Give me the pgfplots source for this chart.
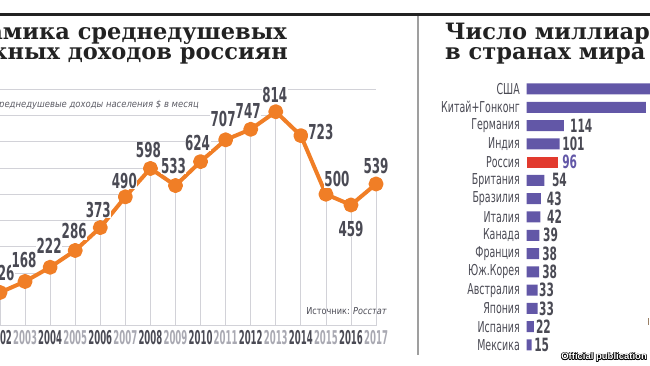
\documentclass[border=0pt]{standalone}
\usepackage{fontspec}
\usepackage{pgfplots}
\pgfplotsset{compat=1.18}
\usepackage{pgfplotstable}
\setmainfont{DejaVu Sans}
\newfontfamily\titlefont[FakeStretch=1.0]{DejaVu Serif}
\newfontfamily\numfont[FakeStretch=0.58]{DejaVu Sans}
\newfontfamily\yearfont[FakeStretch=0.45]{DejaVu Sans}
\newfontfamily\cfont[FakeStretch=0.63]{DejaVu Sans}
\newfontfamily\subfont[FakeStretch=0.89]{DejaVu Sans}
\newfontfamily\srcfont[FakeStretch=0.85]{DejaVu Sans}
\newfontfamily\wmfont{Liberation Sans}
\definecolor{orng}{HTML}{F07E26}
\definecolor{barc}{HTML}{6257A7}
\definecolor{redc}{HTML}{E23A2E}
\definecolor{dtxt}{HTML}{4A4A54}
\definecolor{ltxt}{HTML}{A9A9B2}
\definecolor{gridc}{HTML}{D2D2D8}
\definecolor{titc}{HTML}{222222}

\pgfplotstableread{
year val dx dy
2002 126 2 19
2003 168 -1 21
2004 222 -1 21
2005 286 -1 19
2006 373 -2 18
2007 490 -1 16
2008 598 -2 18
2009 533 -2 20
2010 624 -3 19
2011 707 -2.5 21
2012 747 -2.5 18
2013 814 -1 17
2014 723 20 4
2015 500 11 15
2016 459 0 -24
2017 539 0 18
}\income

\pgfplotstableread{
idx val gap
0 565 5
1 364 5
2 114 6
3 101 2.5
5 54 7.5
6 43 6
7 42 6.5
8 39 3.5
9 38 3
10 38 3
11 33 1.5
12 33 1.5
13 22 2
14 15 2.5
}\bars

\pgfplotstableread{
idx val gap
4 96 4
}\russia

\begin{document}
\begin{tikzpicture}[x=1pt,y=1pt]
\useasboundingbox (0,0) rectangle (650,366);
\clip (0,0) rectangle (650,366);

% top rule and divider
\fill[titc] (0,350) rectangle (650,353.3);
\draw[gray!75, line width=1.2pt] (418,350) -- (418,11);
\draw[brown!40!gray, line width=1pt] (648,41) -- (648,48);

% titles
\node[anchor=base east, inner sep=0pt, text=titc, font=\titlefont\bfseries\fontsize{22.5}{22.5}\selectfont] at (287,326) {Динамика среднедушевых};
\node[anchor=base east, inner sep=0pt, text=titc, font=\titlefont\bfseries\fontsize{22.5}{22.5}\selectfont] at (288,306.5) {денежных доходов россиян};
\node[anchor=base west, inner sep=0pt, text=titc, font=\titlefont\bfseries\fontsize{22.5}{22.5}\selectfont] at (445,326) {Число миллиардеров};
\node[anchor=base west, inner sep=0pt, text=titc, font=\titlefont\bfseries\fontsize{22.5}{22.5}\selectfont] at (445,306.5) {в странах мира};

\node[anchor=base east, inner sep=0pt, text=dtxt!90, font=\subfont\itshape\fontsize{9.5}{9.5}\selectfont] at (199,258.5) {Среднедушевые доходы населения \$ в месяц};
\node[anchor=base east, inner sep=0pt, text=dtxt, font=\srcfont\fontsize{9.6}{9.6}\selectfont] at (387,51) {Источник: \textit{Росстат}};

% line chart
\begin{axis}[
 at={(-50.14pt,40.4pt)}, anchor=south west, scale only axis,
 width=426.2pt, height=236.5pt,
 xmin=2000, xmax=2017, ymin=0, ymax=900,
 clip=false,
 axis line style={draw=none}, tick style={draw=none},
 ytick=\empty,
 xtick={2002,2003,...,2017},
 xticklabels={\textcolor{dtxt}{2002},\textcolor{ltxt}{2003},\textcolor{dtxt}{2004},\textcolor{ltxt}{2005},\textcolor{dtxt}{2006},\textcolor{ltxt}{2007},\textcolor{dtxt}{2008},\textcolor{ltxt}{2009},\textcolor{dtxt}{2010},\textcolor{ltxt}{2011},\textcolor{dtxt}{2012},\textcolor{ltxt}{2013},\textcolor{dtxt}{2014},\textcolor{ltxt}{2015},\textcolor{dtxt}{2016},\textcolor{ltxt}{2017}},
 xticklabel style={font=\yearfont\bfseries\fontsize{19}{19}\selectfont, anchor=base, inner sep=0pt, yshift=-18.5pt},
 /pgf/number format/assume math mode=true,
]
\draw[gridc, line width=0.8pt] (axis cs:2000,200) -- (axis cs:2003.59,200);
\draw[gridc, line width=0.8pt] (axis cs:2000,300) -- (axis cs:2005.16,300);
\draw[gridc, line width=0.8pt] (axis cs:2000,400) -- (axis cs:2006.23,400);
\draw[gridc, line width=0.8pt] (axis cs:2000,500) -- (axis cs:2007.09,500);
\draw[gridc, line width=0.8pt] (axis cs:2000,600) -- (axis cs:2008,600);
\draw[gridc, line width=0.8pt] (axis cs:2000,700) -- (axis cs:2010.92,700);
\draw[gridc, line width=0.8pt] (axis cs:2000,800) -- (axis cs:2012.79,800);
\draw[gridc, line width=0.8pt] (axis cs:2000,900) -- (axis cs:2017,900);
\draw[gridc, line width=0.8pt] (axis cs:2000,0) -- (axis cs:2017,0);
\addplot[ycomb, gridc, line width=0.8pt, no marks] table[x=year,y=val]{\income};
\addplot[orng, line width=4pt, line join=round, mark=*, mark size=5.5pt,
  mark options={fill=orng, draw=none},
  point meta=y, nodes near coords,
  visualization depends on={\thisrow{dx}\as\dx},
  visualization depends on={\thisrow{dy}\as\dy},
  every node near coord/.append style={anchor=center, xshift={\dx*1pt}, yshift={\dy*1pt},
    font=\numfont\bfseries\fontsize{20.6}{20.6}\selectfont, text=dtxt, fill=white, inner sep=0.5pt}
 ] table[x=year,y=val]{\income};
\end{axis}

% bar chart
\begin{axis}[
 at={(526.7pt,11.86pt)}, anchor=south west, scale only axis,
 width=124.3pt, height=274.3pt,
 xmin=0, xmax=380, ymin=-0.5, ymax=14.5, y dir=reverse,
 clip=false,
 axis line style={draw=none}, tick style={draw=none},
 xtick=\empty,
 ytick={0,1,...,14},
 yticklabels={США,Китай+Гонконг,Германия,Индия,Россия,Британия,Бразилия,Италия,Канада,Франция,Юж.Корея,Австралия,Япония,Испания,Мексика},
 yticklabel style={font=\cfont\fontsize{15}{15}\selectfont, text=dtxt, anchor=east, inner sep=0pt, xshift=-6.7pt},
 /pgf/number format/assume math mode=true,
]
\addplot[xbar, bar width=11pt, bar shift=0pt, fill=barc, draw=none,
  point meta=x, nodes near coords,
  visualization depends on={\thisrow{gap}\as\gap},
  every node near coord/.append style={anchor=west, xshift={\gap*1pt}, inner sep=0pt,
    font=\numfont\bfseries\fontsize{18.3}{18.3}\selectfont, text=dtxt}
 ] table[x=val,y=idx]{\bars};
\addplot[xbar, bar width=11pt, bar shift=0pt, fill=redc, draw=none,
  point meta=x, nodes near coords,
  visualization depends on={\thisrow{gap}\as\gap},
  every node near coord/.append style={anchor=west, xshift={\gap*1pt}, inner sep=0pt,
    font=\numfont\bfseries\fontsize{18.3}{18.3}\selectfont, text=barc}
 ] table[x=val,y=idx]{\russia};
\end{axis}

% watermark
\foreach \ox/\oy in {-0.7/0,0.7/0,0/-0.7,0/0.7,-0.5/-0.5,0.5/0.5,-0.5/0.5,0.5/-0.5}{
  \node[anchor=base east, inner sep=0pt, text=black, font=\wmfont\bfseries\fontsize{9.5}{9.5}\selectfont] at (647+\ox,6+\oy) {Official publication};
}
\node[anchor=base east, inner sep=0pt, text=white, font=\wmfont\bfseries\fontsize{9.5}{9.5}\selectfont] at (647,6) {Official publication};
\end{tikzpicture}
\end{document}
